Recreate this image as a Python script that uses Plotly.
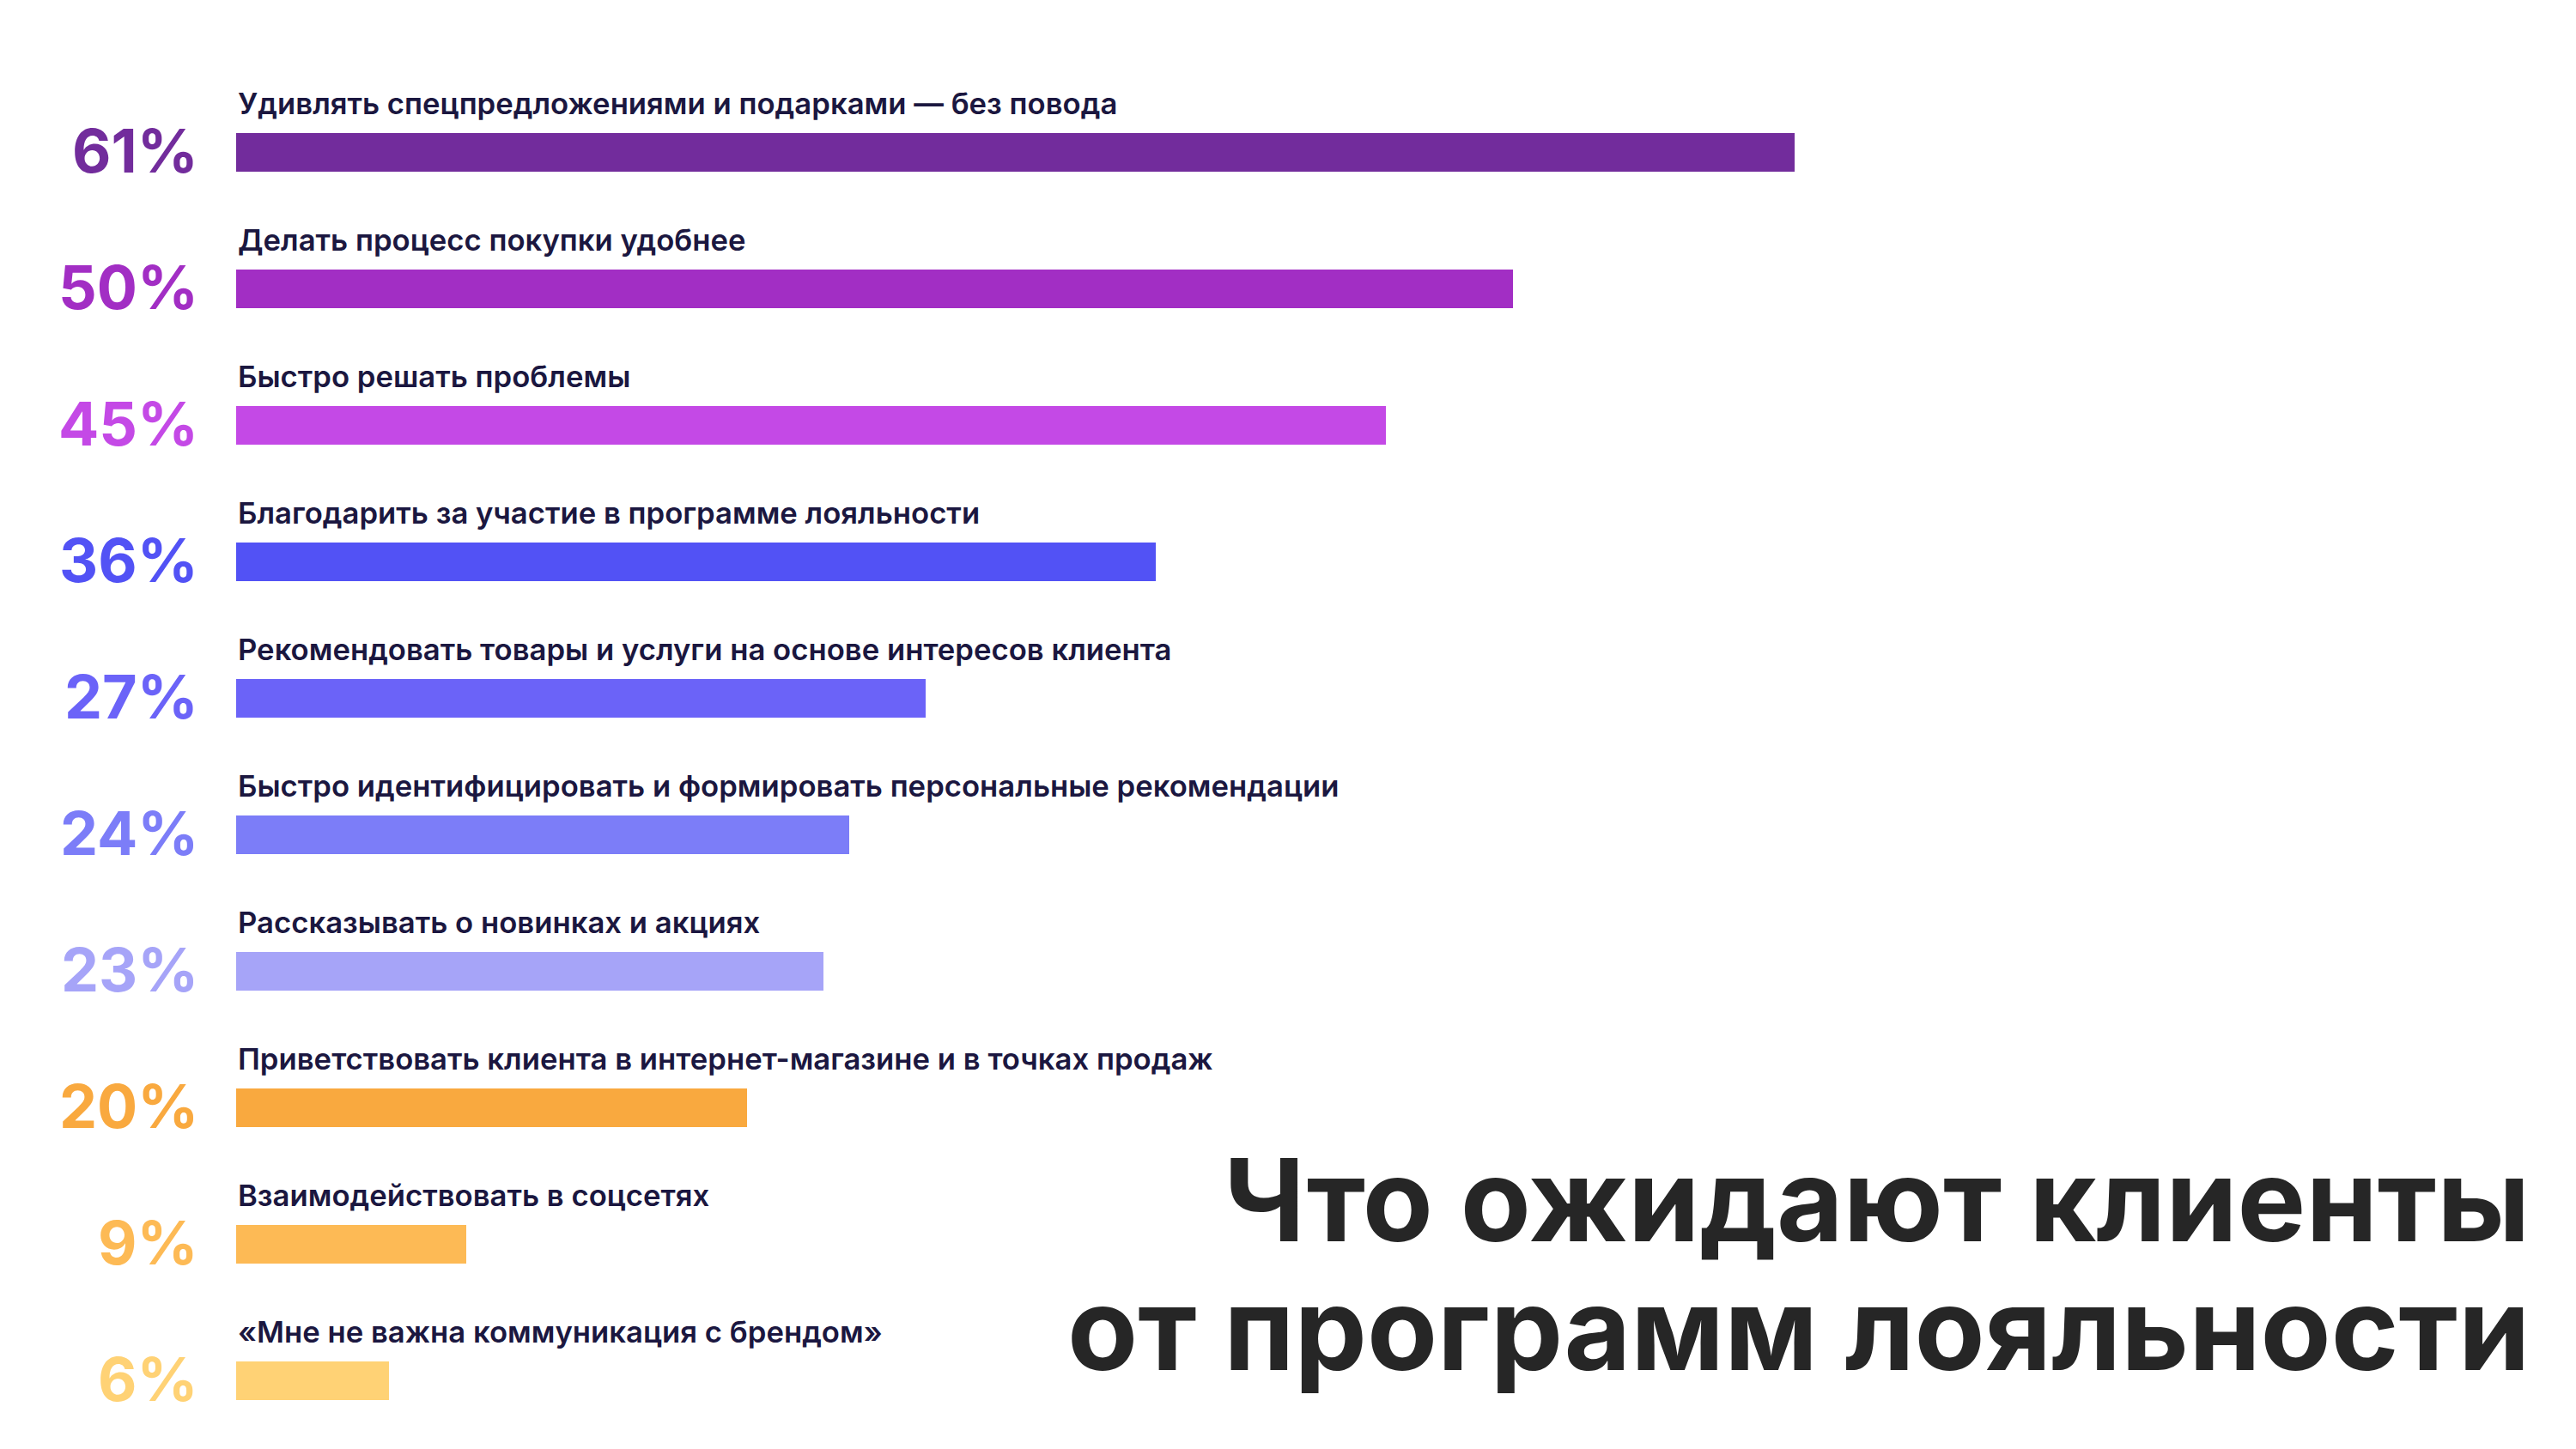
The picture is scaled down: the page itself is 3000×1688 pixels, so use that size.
import plotly.graph_objects as go

labels = [
    "Удивлять спецпредложениями и подарками — без повода",
    "Делать процесс покупки удобнее",
    "Быстро решать проблемы",
    "Благодарить за участие в программе лояльности",
    "Рекомендовать товары и услуги на основе интересов клиента",
    "Быстро идентифицировать и формировать персональные рекомендации",
    "Рассказывать о новинках и акциях",
    "Приветствовать клиента в интернет-магазине и в точках продаж",
    "Взаимодействовать в соцсетях",
    "«Мне не важна коммуникация с брендом»",
]
values = [61, 50, 45, 36, 27, 24, 23, 20, 9, 6]
colors = [
    "#722C9C", "#A22EC4", "#C449E6", "#5252F5", "#6B63F8",
    "#7C7DF8", "#A6A4F8", "#F9A93F", "#FDBA55", "#FFD275",
]
title_lines = ["Что ожидают клиенты", "от программ лояльности"]

# the page body has an 8px margin, so the figure is a bit smaller than the window
W, H = 2992, 1680
TOP = 90
LEFT = 267
rows = list(range(len(values)))

fig = go.Figure()
fig.add_trace(go.Bar(
    x=values,
    y=rows,
    orientation="h",
    width=0.28,
    marker=dict(color=colors, line=dict(width=0)),
    hoverinfo="skip",
))

annotations = []
for i, (lab, v, c) in enumerate(zip(labels, values, colors)):
    # category label above the bar
    annotations.append(dict(
        x=0, y=i, xref="x", yref="y",
        text=lab, showarrow=False,
        xanchor="left", yanchor="middle", yshift=58,
        font=dict(family="Inter", size=34.7, color="#1B1740", weight=600),
    ))
    # big percentage on the left
    annotations.append(dict(
        x=0, y=i, xref="x", yref="y",
        text=f"{v}%", showarrow=False,
        xanchor="right", yanchor="middle", xshift=-42, yshift=2,
        font=dict(family="Inter", size=70, color=c, weight=700),
    ))

# title, bottom right
for line, pix in zip(title_lines, [1389, 1539]):
    annotations.append(dict(
        x=(2940 - LEFT) / (W - LEFT), y=(H - pix) / (H - TOP),
        xref="paper", yref="paper",
        text=line, showarrow=False,
        xanchor="right", yanchor="middle",
        font=dict(family="Inter", size=134, color="#262626", weight=700),
    ))

fig.update_layout(
    width=W, height=H,
    margin=dict(l=LEFT, r=0, t=TOP, b=0),
    paper_bgcolor="white",
    plot_bgcolor="white",
    showlegend=False,
    bargap=0,
    xaxis=dict(range=[0, 91.6], visible=False, fixedrange=True),
    yaxis=dict(range=[len(values) - 0.5, -0.5], visible=False, fixedrange=True),
    annotations=annotations,
)

fig.write_html("out.html")
